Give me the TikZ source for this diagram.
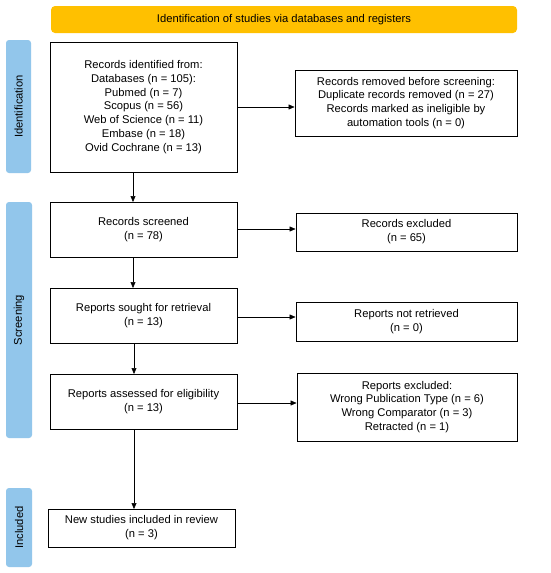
\documentclass[tikz,border=0pt]{standalone}
\usepackage{fontspec}
\setmainfont{Liberation Sans}
\usetikzlibrary{arrows.meta}
\definecolor{hdr}{HTML}{FFC000}
\definecolor{side}{HTML}{92C6EB}
\begin{document}
\begin{tikzpicture}[x=1pt,y=-1pt,
  font=\fontsize{11.2}{13.9}\selectfont,
  box/.style={draw=black, line width=0.9pt, align=center, inner sep=0pt},
  phase/.style={fill=side, rounded corners=3pt},
  arr/.style={-{Triangle[length=6pt,width=5pt]}, line width=0.5pt}]
\useasboundingbox[fill=white] (0,0) rectangle (550,573);
% header
\fill[hdr, rounded corners=4pt] (51,6) rectangle (517,33);
\node (hdrtext) at (284,19.5) {Identification of studies via databases and registers};
% phase bars
\fill[phase] (6,40) rectangle (31,173);
\node[rotate=90] (pid) at (18.5,106.5) {Identification};
\fill[phase] (6,202) rectangle (32,438);
\node[rotate=90] (psc) at (19,320) {Screening};
\fill[phase] (6,488) rectangle (32,567);
\node[rotate=90] (pin) at (19,527.5) {Included};
% boxes
\node[box, minimum width=187pt, minimum height=130pt] (id) at (143.5,107) {Records identified from:\\Databases (n = 105):\\Pubmed (n = 7)\\Scopus (n = 56)\\Web of Science (n = 11)\\Embase (n = 18)\\Ovid Cochrane (n = 13)};
\node[box, minimum width=222pt, minimum height=66pt] (rem) at (406,103) {Records removed before screening:\\Duplicate records removed (n = 27)\\Records marked as ineligible by\\automation tools (n = 0)};
\node[box, minimum width=187pt, minimum height=55pt] (scr) at (143.5,229.5) {Records screened\\(n = 78)};
\node[box, minimum width=221pt, minimum height=38pt] (exc) at (406.5,232) {Records excluded\\(n = 65)};
\node[box, minimum width=187pt, minimum height=55pt] (sought) at (143.5,315.5) {Reports sought for retrieval\\(n = 13)};
\node[box, minimum width=221pt, minimum height=39pt] (notret) at (406.5,321.5) {Reports not retrieved\\(n = 0)};
\node[box, minimum width=187pt, minimum height=55pt] (elig) at (143.5,401.5) {Reports assessed for eligibility\\(n = 13)};
\node[box, minimum width=220pt, minimum height=68pt] (rexc) at (407,407) {Reports excluded:\\\hspace*{0pt}Wrong Publication Type (n = 6)\\Wrong Comparator (n = 3)\\Retracted (n = 1)};
\node[box, minimum width=187pt, minimum height=38pt] (incl) at (141.5,528) {New studies included in review\\(n = 3)};
% arrows
\draw[arr] (id.east |- 0,107) -- (rem.west |- 0,107);
\draw[arr] (133,172) -- (133,202);
\draw[arr] (scr.east |- 0,229) -- (exc.west |- 0,229);
\draw[arr] (133,257) -- (133,288);
\draw[arr] (sought.east |- 0,317) -- (notret.west |- 0,317);
\draw[arr] (134,343) -- (134,374);
\draw[arr] (elig.east |- 0,403) -- (rexc.west |- 0,403);
\draw[arr] (134,429) -- (134,509);
\end{tikzpicture}
\end{document}
